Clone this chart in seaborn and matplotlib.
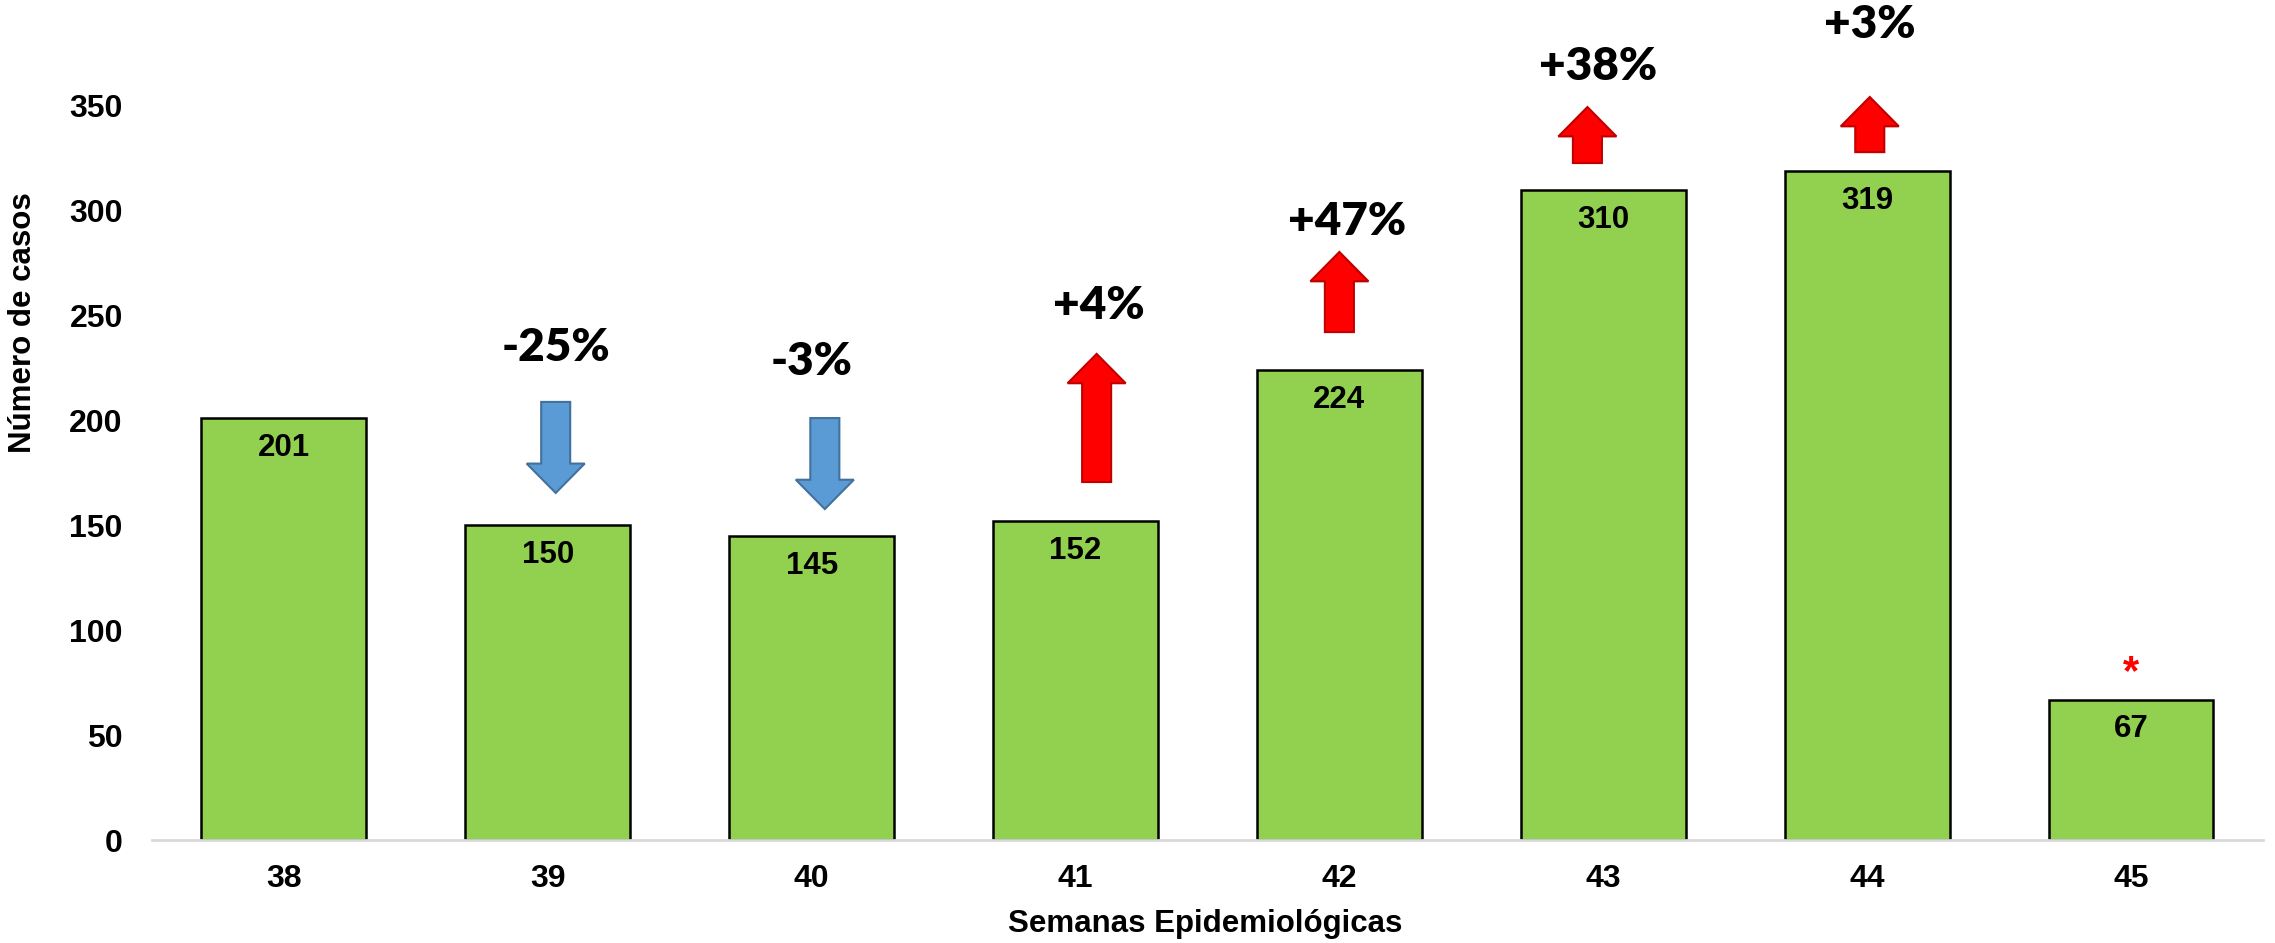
import matplotlib.pyplot as plt
from matplotlib.patches import FancyArrow
import seaborn as sns

# Data
weeks = ["38", "39", "40", "41", "42", "43", "44", "45"]
cases = [201, 150, 145, 152, 224, 310, 319, 67]

# Week-over-week change annotations (weeks 39..44)
change_labels = ["-25%", "-3%", "+4%", "+47%", "+38%", "+3%"]
arrow_x = [1.03, 2.05, 3.08, 4.00, 4.94, 6.01]
arrow_tail = [208.9, 201.2, 170.7, 242.2, 322.8, 328.0]
arrow_tip = [165.5, 157.8, 231.8, 280.4, 349.5, 354.3]
label_x = [1.03, 2.00, 3.09, 4.03, 4.98, 6.01]
label_y = [235, 228, 255, 295, 369, 389]

sns.set_style("white")
plt.rcParams["font.family"] = ["Liberation Sans", "DejaVu Sans"]
plt.rcParams["text.color"] = "black"
plt.rcParams["axes.labelcolor"] = "black"
plt.rcParams["xtick.color"] = "black"
plt.rcParams["ytick.color"] = "black"

fig = plt.figure(figsize=(22.75, 9.43), dpi=100)
ax = fig.add_axes([0.0668, 0.1092, 0.9279, 0.7784])

sns.barplot(x=weeks, y=cases, color="#92D050", saturation=1, width=0.625,
            edgecolor="black", linewidth=1.8, ax=ax)

ax.set_ylim(0, 350)
ax.set_xlim(-0.5, 7.5)
ax.set_yticks(range(0, 351, 50))

for s in ["top", "right", "left"]:
    ax.spines[s].set_visible(False)
ax.spines["bottom"].set_color("#D9D9D9")
ax.spines["bottom"].set_linewidth(2)

ax.tick_params(axis="y", length=0, pad=21, labelsize=23)
ax.tick_params(axis="x", length=0, pad=17, labelsize=23)
for lbl in ax.get_xticklabels() + ax.get_yticklabels():
    lbl.set_fontweight("bold")

ax.set_ylabel("Número de casos", fontsize=22.5, fontweight="bold")
ax.yaxis.set_label_coords(-0.054, 0.705)
ax.set_xlabel("Semanas Epidemiológicas", fontsize=22.5, fontweight="bold")
ax.xaxis.set_label_coords(0.499, -0.094)

# value labels inside the bars
for i, v in enumerate(cases):
    ax.annotate(str(v), (i, v), xytext=(0, -21.5), textcoords="offset points",
                ha="center", va="center", fontsize=22.5, fontweight="bold")

# red asterisk over the last (incomplete) week
ax.text(7, 79.6, "*", color="red", ha="center", va="center",
        fontsize=30, fontweight="bold")

# change arrows and percentages
for x, t0, t1, lab, lx, ly in zip(arrow_x, arrow_tail, arrow_tip,
                                  change_labels, label_x, label_y):
    down = t1 < t0
    face = "#5B9BD5" if down else "#FF0000"
    edge = "#41719C" if down else "#C00000"
    arr = FancyArrow(x, t0, 0, t1 - t0, width=0.11, head_width=0.22,
                     head_length=14, length_includes_head=True,
                     facecolor=face, edgecolor=edge, linewidth=1.5,
                     clip_on=False, zorder=3)
    ax.add_patch(arr)
    ax.text(lx, ly, lab, ha="center", va="center", fontsize=33,
            fontfamily="Lato", fontweight=800, color="black", clip_on=False)

fig.savefig("out.png", dpi=100)
